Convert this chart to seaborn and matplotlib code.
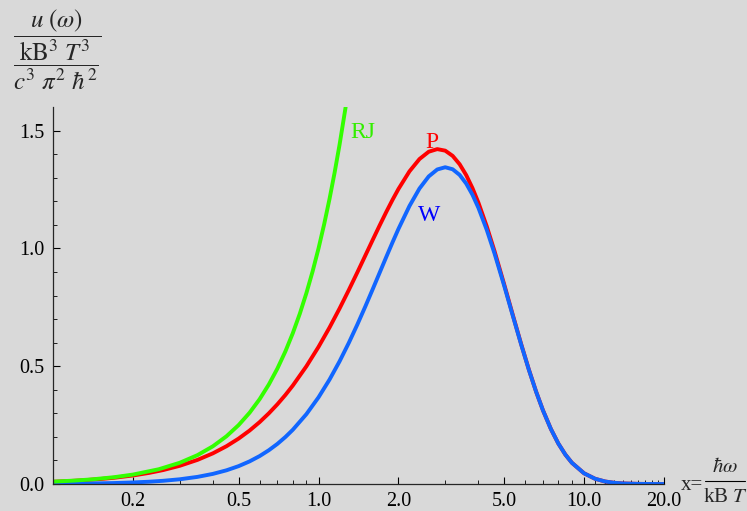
import numpy as np
import pandas as pd
import seaborn as sns
import matplotlib.pyplot as plt
from matplotlib.lines import Line2D
from matplotlib.ticker import FixedLocator, FixedFormatter, NullFormatter

# values (x = hbar*omega / kB T)
x_vals = [0.1, 0.11, 0.12, 0.13, 0.15, 0.17, 0.2, 0.23, 0.26, 0.3, 0.35, 0.4,
          0.45, 0.5, 0.55, 0.6, 0.65, 0.7, 0.75, 0.8, 0.9, 1.0, 1.1, 1.2, 1.3,
          1.4, 1.5, 1.6, 1.7, 1.8, 1.9, 2.0, 2.2, 2.4, 2.6, 2.8, 3.0, 3.2, 3.4,
          3.6, 3.8, 4.0, 4.3, 4.6, 5.0, 5.4, 5.8, 6.2, 6.6, 7.0, 7.5, 8.0, 8.5,
          9.0, 10.0, 11.0, 12.0, 13.0, 14.0, 16.0, 18.0, 20.0]
planck = [0.0095, 0.0115, 0.0136, 0.0158, 0.0209, 0.0265, 0.0361, 0.0471,
          0.0592, 0.0772, 0.1023, 0.1301, 0.1603, 0.1927, 0.2269, 0.2627,
          0.3000, 0.3384, 0.3777, 0.4178, 0.4995, 0.5820, 0.6641, 0.7448,
          0.8231, 0.8981, 0.9694, 1.0362, 1.0981, 1.1549, 1.2063, 1.2521,
          1.3269, 1.3792, 1.4102, 1.4213, 1.4147, 1.3925, 1.3570, 1.3106,
          1.2556, 1.1941, 1.0936, 0.9883, 0.8480, 0.7144, 0.5925, 0.4847,
          0.3916, 0.3131, 0.2335, 0.1718, 0.1250, 0.0900, 0.0454, 0.0222,
          0.0106, 0.0050, 0.0023, 0.0005, 0.0001, 0.0]
wien = [0.0009, 0.0012, 0.0015, 0.0019, 0.0029, 0.0041, 0.0066, 0.0097,
        0.0136, 0.0200, 0.0302, 0.0429, 0.0581, 0.0758, 0.0960, 0.1185,
        0.1434, 0.1703, 0.1993, 0.2301, 0.2964, 0.3679, 0.4431, 0.5205,
        0.5988, 0.6767, 0.7531, 0.8270, 0.8975, 0.9640, 1.0259, 1.0827,
        1.1798, 1.2541, 1.3054, 1.3349, 1.3443, 1.3357, 1.3117, 1.2748,
        1.2275, 1.1722, 1.0788, 0.9784, 0.8422, 0.7112, 0.5907, 0.4837,
        0.3911, 0.3128, 0.2333, 0.1718, 0.1250, 0.0900, 0.0454, 0.0222,
        0.0106, 0.0050, 0.0023, 0.0005, 0.0001, 0.0]
rj_x = [0.1, 0.12, 0.14, 0.17, 0.2, 0.25, 0.3, 0.35, 0.4, 0.45, 0.5, 0.55,
        0.6, 0.65, 0.7, 0.75, 0.8, 0.85, 0.9, 0.95, 1.0, 1.05, 1.1, 1.15,
        1.2, 1.265]
rj = [0.01, 0.0144, 0.0196, 0.0289, 0.04, 0.0625, 0.09, 0.1225, 0.16,
      0.2025, 0.25, 0.3025, 0.36, 0.4225, 0.49, 0.5625, 0.64, 0.7225, 0.81,
      0.9025, 1.0, 1.1025, 1.21, 1.3225, 1.44, 1.6]

xtick_vals = [0.2, 0.5, 1.0, 2.0, 5.0, 10.0, 20.0]
xtick_labels = ['0.2', '0.5', '1.0', '2.0', '5.0', '10.0', '20.0']

bg = '#d9d9d9'
sns.set_style('ticks', {'axes.facecolor': bg, 'figure.facecolor': bg})
plt.rcParams['font.family'] = ['Liberation Serif', 'DejaVu Serif']
plt.rcParams['mathtext.fontset'] = 'stix'

fig = plt.figure(figsize=(7.47, 5.11), dpi=100)
ax = fig.add_axes([53 / 747, 27 / 511, 611 / 747, 377 / 511])

sns.lineplot(x=x_vals, y=planck, color='#ff0000', lw=2.8, ax=ax)
sns.lineplot(x=x_vals, y=wien, color='#1166ff', lw=2.8, ax=ax)
sns.lineplot(x=rj_x, y=rj, color='#33ff00', lw=2.8, ax=ax)

ax.set_xscale('log')
ax.set_xlim(0.1, 20)
ax.set_ylim(0, 1.6)

ax.xaxis.set_major_locator(FixedLocator(xtick_vals))
ax.xaxis.set_major_formatter(FixedFormatter(xtick_labels))
minor_x = [v for v in list(np.arange(0.1, 1.0, 0.1)) + list(range(1, 10)) + list(range(10, 21))
           if round(v, 2) not in xtick_vals]
ax.xaxis.set_minor_locator(FixedLocator(minor_x))
ax.xaxis.set_minor_formatter(NullFormatter())
ax.set_yticks([0.0, 0.5, 1.0, 1.5])
ax.set_yticklabels(['0.0', '0.5', '1.0', '1.5'])
ax.yaxis.set_minor_locator(FixedLocator([v / 10 for v in range(1, 15) if v % 5]))

ax.tick_params(which='both', direction='in', labelsize=14.5, colors='black')
ax.tick_params(which='major', length=5, width=0.8, pad=6)
ax.tick_params(which='minor', length=3, width=0.6)
sns.despine(ax=ax)
for s in ['left', 'bottom']:
    ax.spines[s].set_linewidth(0.9)

ax.text(1.47, 1.49, 'RJ', color='#33ee00', fontsize=17, ha='center', va='center')
ax.text(2.68, 1.45, 'P', color='#ff0000', fontsize=17, ha='center', va='center')
ax.text(2.6, 1.14, 'W', color='#0000ff', fontsize=17, ha='center', va='center')

# y label: u(w) / (kB^3 T^3 / c^3 pi^2 hbar^2)
fig.text(57 / 747, 1 - 50 / 511,
         r'$\dfrac{u\ (\omega)}{\dfrac{\mathrm{kB}^3\ T^3}{c^3\ \pi^2\ \hbar^2}}$',
         fontsize=18, ha='center', va='center')

# x label: x = hbar w / kB T, built from pieces
fig.text(692 / 747, 1 - 485 / 511, 'x=', fontsize=15, ha='center', va='center')
fig.text(725 / 747, 1 - 467 / 511, r'$\hbar\omega$', fontsize=15, ha='center', va='center')
fig.text(725 / 747, 1 - 497 / 511, r'kB $T$', fontsize=15, ha='center', va='center')
fig.add_artist(Line2D([705 / 747, 745 / 747], [1 - 481 / 511] * 2, color='black', lw=0.8))

fig.savefig('out.png', dpi=100, facecolor=bg)
